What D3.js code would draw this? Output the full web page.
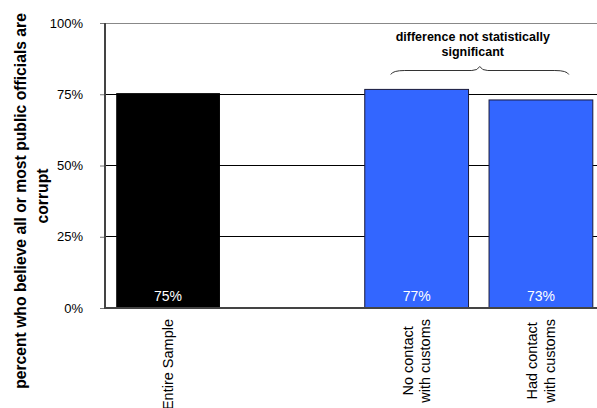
<!DOCTYPE html>
<html><head><meta charset="utf-8">
<script src="https://cdn.jsdelivr.net/npm/d3@7"></script>
<style>body{margin:0;background:#fff}svg{display:block;font-family:"Liberation Sans",Arial,sans-serif}</style>
</head><body>
<svg id="c" width="597" height="408"></svg>
<script>
const categories = [["Entire Sample"], [], ["No contact", "with customs"], ["Had contact", "with customs"]];
const values = [75.4, null, 76.7, 73.0];
const valueLabels = ["75%", "", "77%", "73%"];
const colors = ["#000000", null, "#3366FF", "#3366FF"];
const yTicks = [0, 25, 50, 75, 100];
const yTitle = ["percent who believe all or most public officials are", "corrupt"];
const note = ["difference not statistically", "significant"];

const svg = d3.select("#c");
const x0 = 105, yTop = 23, yBot = 308;
const idx = d3.range(categories.length);
const x = d3.scaleBand().domain(idx).range([x0, 604]).paddingInner(0.165).paddingOuter(0.09);
const y = d3.scaleLinear().domain([0, 100]).range([yBot, yTop]);

// grid lines
svg.append("g").selectAll("line").data(yTicks.filter(t => t > 0 && t < 100)).join("line")
  .attr("x1", x0).attr("x2", 597).attr("y1", d => y(d)).attr("y2", d => y(d))
  .attr("stroke", "#000").attr("stroke-width", 1).attr("shape-rendering", "crispEdges");
// top border
svg.append("line").attr("x1", x0).attr("x2", 597).attr("y1", y(100)).attr("y2", y(100))
  .attr("stroke", "#888").attr("stroke-width", 1).attr("shape-rendering", "crispEdges");

// bars
const bars = idx.filter(i => values[i] != null);
svg.append("g").selectAll("rect").data(bars).join("rect")
  .attr("x", i => x(i)).attr("width", x.bandwidth())
  .attr("y", i => y(values[i])).attr("height", i => y(0) - y(values[i]))
  .attr("fill", i => colors[i])
  .attr("stroke", i => i === 0 ? "none" : "#1a1a3a").attr("stroke-width", 1);

// value labels
svg.append("g").selectAll("text").data(bars).join("text")
  .attr("x", i => x(i) + x.bandwidth() / 2).attr("y", 301)
  .attr("text-anchor", "middle").attr("fill", "#fff").attr("font-size", 14)
  .text(i => valueLabels[i]);

// y axis
const yAxis = d3.axisLeft(y).tickValues(yTicks).tickFormat(d => d + "%").tickSize(5).tickPadding(17);
const ga = svg.append("g").attr("transform", `translate(${x0},0)`).call(yAxis);
ga.select(".domain").remove();
ga.selectAll(".tick line").attr("stroke", "#777");
ga.selectAll(".tick text").attr("font-size", 13).attr("font-family", "Liberation Sans, Arial, sans-serif").attr("fill", "#000");
svg.append("line").attr("x1", x0).attr("x2", x0).attr("y1", yTop).attr("y2", yBot + 1)
  .attr("stroke", "#444").attr("stroke-width", 2);
svg.append("line").attr("x1", x0 - 1).attr("x2", 597).attr("y1", yBot).attr("y2", yBot)
  .attr("stroke", "#444").attr("stroke-width", 2);

// category labels (rotated)
idx.forEach(i => {
  const lines = categories[i];
  if (!lines.length) return;
  const cx = x(i) + x.bandwidth() / 2;
  const g = svg.append("g");
  const texts = lines.map((l, k) => g.append("text").attr("font-size", 14.5).attr("text-anchor", "middle").text(l));
  const maxLen = d3.max(texts, t => t.node().getComputedTextLength());
  const cy = 319 + maxLen / 2;
  const n = lines.length, lh = 17.5;
  texts.forEach((t, k) => {
    const bx = cx + 5 + (k - (n - 1) / 2) * lh;
    t.attr("transform", `translate(${bx},${cy}) rotate(-90)`);
  });
});

// y title
const titleX = [26, 48], titleY = [201, 196];
yTitle.forEach((l, k) => {
  svg.append("text").attr("transform", `translate(${titleX[k]},${titleY[k]}) rotate(-90)`)
    .attr("text-anchor", "middle").attr("font-size", 15.7).attr("font-weight", "bold").text(l);
});

// annotation
const nx = (x(2) + x(3) + x.bandwidth()) / 2;
note.forEach((l, k) => {
  svg.append("text").attr("x", nx - 6).attr("y", 40.5 + k * 15.5).attr("text-anchor", "middle")
    .attr("font-size", 12.5).attr("font-weight", "bold").text(l);
});
// brace
const bL = x(2) + 26, bR = x(3) + x.bandwidth() - 24, bM = (bL + bR) / 2, by = 70.5;
const p = d3.path();
p.moveTo(bL, by + 4);
p.quadraticCurveTo(bL + 2, by, bL + 14, by);
p.lineTo(bM - 8, by);
p.quadraticCurveTo(bM - 2, by, bM, by - 4);
p.quadraticCurveTo(bM + 2, by, bM + 8, by);
p.lineTo(bR - 14, by);
p.quadraticCurveTo(bR - 2, by, bR, by + 4);
svg.append("path").attr("d", p.toString()).attr("fill", "none").attr("stroke", "#333").attr("stroke-width", 1);
</script>
</body></html>
